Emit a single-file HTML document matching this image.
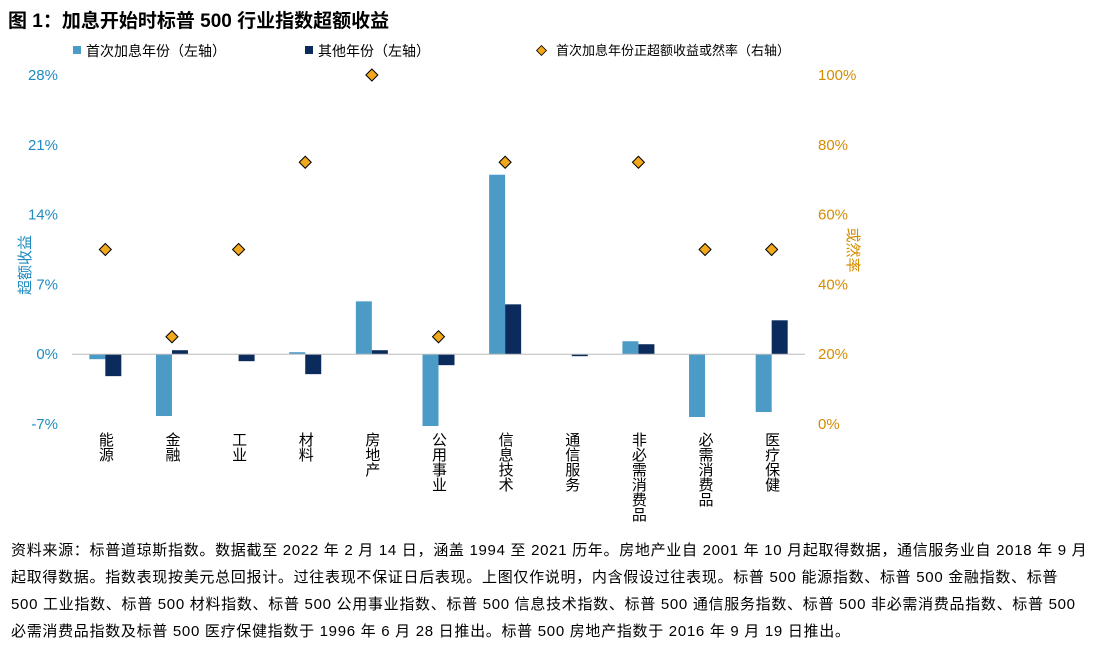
<!DOCTYPE html>
<html><head><meta charset="utf-8"><style>
body{margin:0;width:1100px;height:652px;background:#fff;font-family:"Liberation Sans","Noto Sans CJK SC",sans-serif;overflow:hidden}
svg text{font-family:"Liberation Sans","Noto Sans CJK SC",sans-serif}
#note{position:absolute;left:11px;top:537px;width:1090px;font-size:15px;line-height:27px;color:#000;white-space:nowrap;letter-spacing:0.7px}
</style></head><body>
<svg id="c" width="1100" height="652" style="position:absolute;left:0;top:0">
<text x="8" y="27" font-size="19" font-weight="bold">图 1：加息开始时标普 500 行业指数超额收益</text>
<rect x="73" y="46" width="8" height="8" fill="#4b9bc6"/>
<text x="86" y="56" font-size="14">首次加息年份（左轴）</text>
<rect x="305" y="46" width="8" height="8" fill="#0a2b5c"/>
<text x="318" y="56" font-size="14">其他年份（左轴）</text>
<rect x="538" y="47" width="7" height="7" fill="#f2a81d" stroke="#000" stroke-width="0.8" transform="rotate(45 541.5 50.5)"/>
<text x="556" y="55" font-size="13">首次加息年份正超额收益或然率（右轴）</text>
<text x="30" y="265" font-size="15" fill="#1f8cc0" transform="rotate(-90 30 265)" text-anchor="middle">超额收益</text>
<text x="848" y="250" font-size="15" fill="#d48c00" transform="rotate(90 848 250)" text-anchor="middle">或然率</text>
<g id="g"></g>
</svg>
<div id="note">资料来源：标普道琼斯指数。数据截至 2022 年 2 月 14 日，涵盖 1994 至 2021 历年。房地产业自 2001 年 10 月起取得数据，通信服务业自 2018 年 9 月<br>起取得数据。指数表现按美元总回报计。过往表现不保证日后表现。上图仅作说明，内含假设过往表现。标普 500 能源指数、标普 500 金融指数、标普<br>500 工业指数、标普 500 材料指数、标普 500 公用事业指数、标普 500 信息技术指数、标普 500 通信服务指数、标普 500 非必需消费品指数、标普 500<br>必需消费品指数及标普 500 医疗保健指数于 1996 年 6 月 28 日推出。标普 500 房地产指数于 2016 年 9 月 19 日推出。</div>
<script>
const categories=["能源","金融","工业","材料","房地产","公用事业","信息技术","通信服务","非必需消费品","必需消费品","医疗保健"];
const firstYear=[-0.5,-6.2,0,0.2,5.3,-7.2,18.0,0,1.3,-6.3,-5.8];
const otherYears=[-2.2,0.4,-0.7,-2.0,0.4,-1.1,5.0,-0.2,1.0,0,3.4];
const probability=[50,25,50,75,100,25,75,null,75,50,50];
const leftTicks=[-7,0,7,14,21,28];
const rightTicks=[0,20,40,60,80,100];
const NS="http://www.w3.org/2000/svg",g=document.getElementById('g');
const X0=72,X1=805,Y0=75,Y1=424;
const yL=v=>Y1-(v+7)/35*(Y1-Y0);
const yR=v=>Y1-v/100*(Y1-Y0);
const bw=(X1-X0)/categories.length;
const cx=i=>X0+bw*(i+0.5);
function el(t,a,txt){const e=document.createElementNS(NS,t);for(const k in a)e.setAttribute(k,a[k]);if(txt!=null)e.textContent=txt;g.appendChild(e);return e;}
leftTicks.forEach(v=>{const t=el('text',{x:58,y:yL(v)+5,'font-size':15,fill:'#1f8cc0','text-anchor':'end'},v+'%');

});
rightTicks.forEach(v=>{const t=el('text',{x:818,y:yR(v)+5,'font-size':15,fill:'#d48c00'},v+'%');

});
const w=16;
categories.forEach((c,i)=>{
 const a=firstYear[i],b=otherYears[i];
 if(a!==0){const r=el('rect',{x:cx(i)-w,y:Math.min(yL(0),yL(a)),width:w,height:Math.abs(yL(a)-yL(0)),fill:'#4b9bc6'});
 
 }
 if(b!==0){const r=el('rect',{x:cx(i),y:Math.min(yL(0),yL(b)),width:w,height:Math.max(1,Math.abs(yL(b)-yL(0))),fill:'#0a2b5c'});
 
 }
 const t=el('text',{x:cx(i),y:432,'font-size':15,'writing-mode':'tb','glyph-orientation-vertical':0,'text-anchor':'start'},c);
 
 
});
const ax=el('line',{x1:X0,x2:X1,y1:yL(0),y2:yL(0),stroke:'#bbb','stroke-width':1});


probability.forEach((p,i)=>{if(p==null)return;const y=yR(p),x=cx(i);
 const d=el('polygon',{points:`${x},${y-6} ${x+6},${y} ${x},${y+6} ${x-6},${y}`,fill:'#f2a81d',stroke:'#000','stroke-width':1});
 
 });
</script>
</body></html>
